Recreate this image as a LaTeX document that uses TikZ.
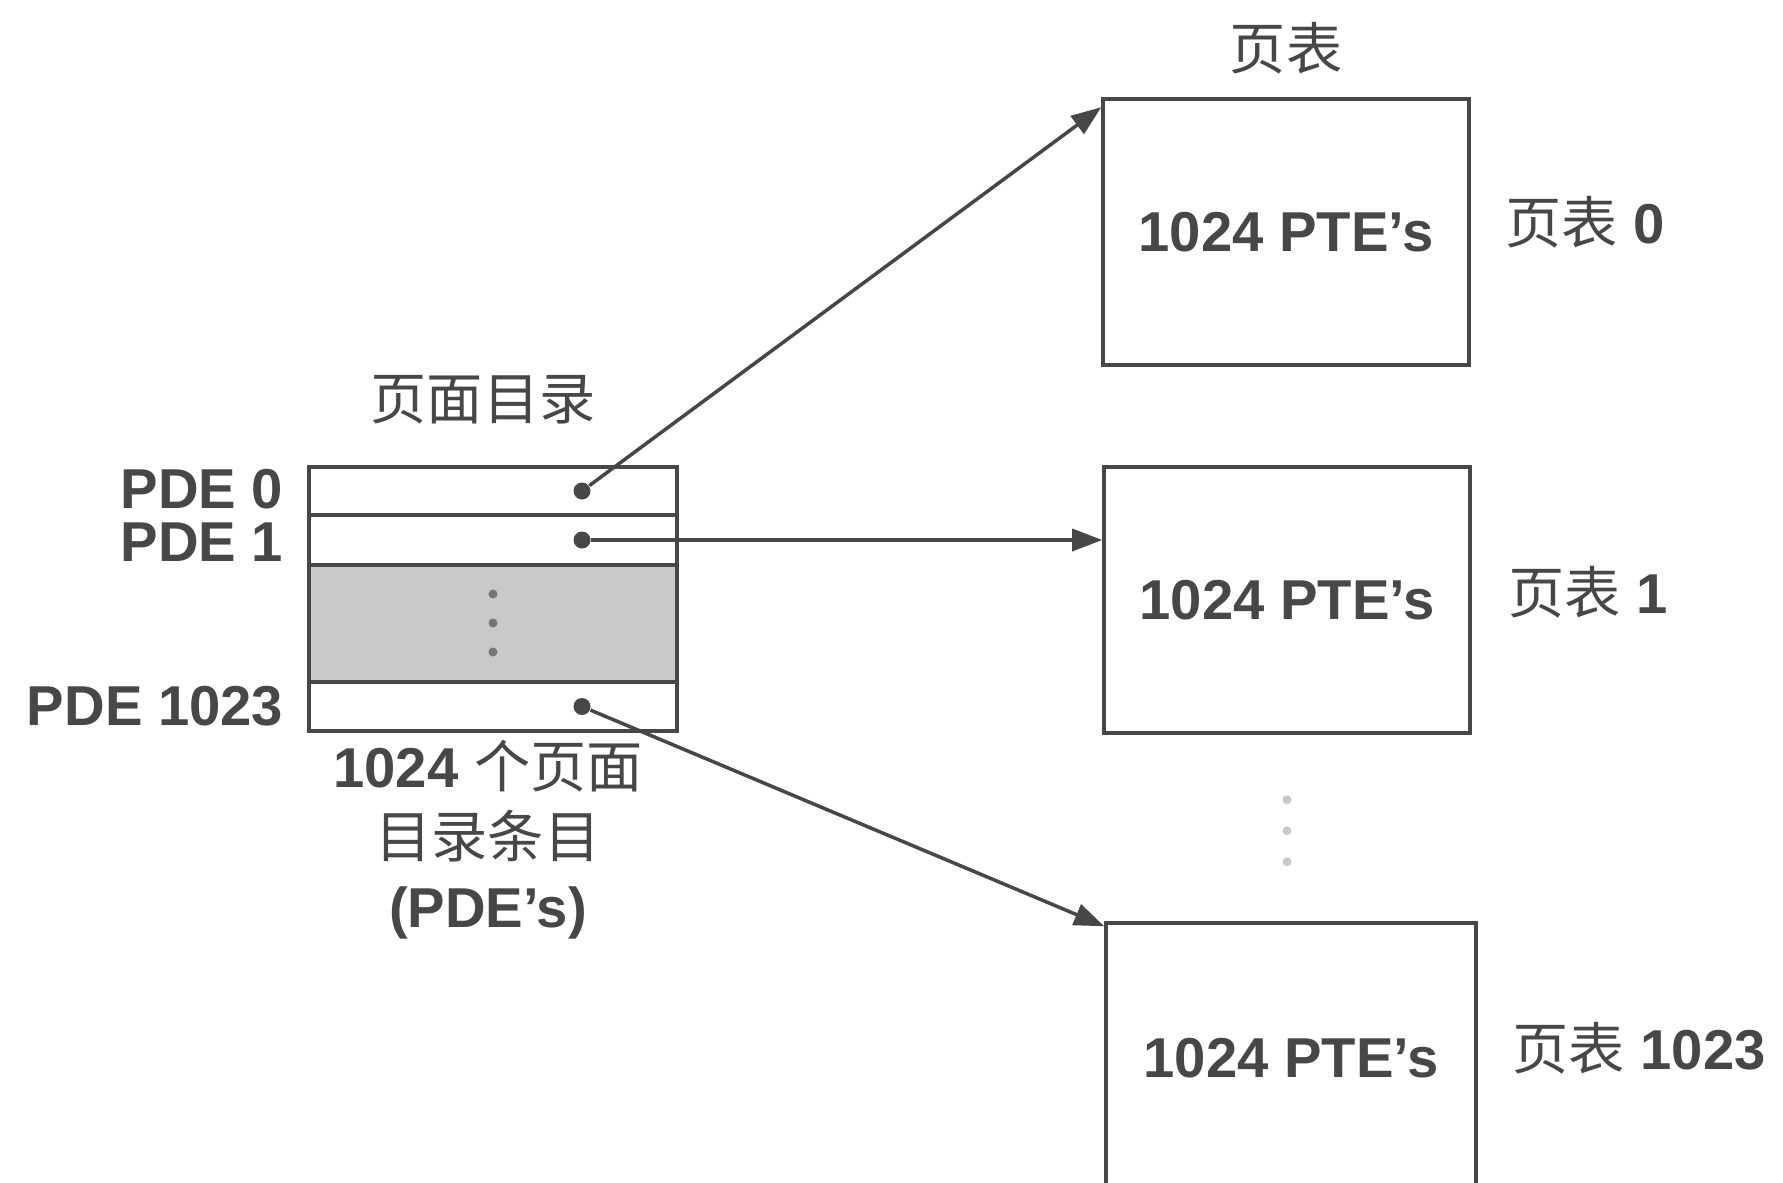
\documentclass[tikz,border=0pt]{standalone}
\usepackage{fontspec}
\setmainfont{Liberation Sans}
\newfontfamily\cjk{Noto Sans CJK SC}
\newcommand{\zh}[1]{{\cjk\mdseries #1}}
\usetikzlibrary{arrows.meta, positioning, calc}
\definecolor{inkgray}{HTML}{474747}
\definecolor{shadegray}{HTML}{C9C9C9}

\begin{document}
\begin{tikzpicture}[
    font=\fontsize{16}{20}\selectfont\bfseries,
    text=inkgray,
    pagebox/.style={
        draw=inkgray,
        rectangle,
        minimum width=3.66cm,
        minimum height=2.66cm,
        align=center,
        inner sep=0pt,
        line width=1pt
    },
    slot/.style={
        draw=inkgray,
        rectangle,
        minimum width=3.68cm,
        inner sep=0pt,
        outer sep=0pt,
        line width=1pt
    },
    ptrdot/.style={
        circle,
        fill=inkgray,
        minimum size=0.17cm,
        inner sep=0pt
    },
    gapdot/.style={
        circle,
        fill=#1,
        minimum size=0.09cm,
        inner sep=0pt
    },
    arrow/.style={
        -{Triangle[length=3mm, width=2.2mm]},
        line width=1pt,
        draw=inkgray
    },
    tag/.style={
        inner sep=0pt,
        align=center
    }
]

\useasboundingbox (0,0) rectangle (17.83,-11.83);

\node[pagebox] (pt0) at (12.86,-2.32) {1024 PTE's};
\node[pagebox] (pt1) at (12.87,-6.00) {1024 PTE's};
\node[pagebox, minimum width=3.70cm, minimum height=2.70cm] (pt1023) at (12.91,-10.58) {1024 PTE's};

\node[slot, minimum height=0.48cm] (pde0) at (4.93,-4.91) {};
\node[slot, minimum height=0.50cm, below=0pt of pde0] (pde1) {};
\node[slot, minimum height=1.17cm, fill=shadegray, below=0pt of pde1] (pdemid) {};
\node[slot, minimum height=0.49cm, below=0pt of pdemid] (pde1023) {};

\foreach \dy [count=\k] in {0.29,0.58,0.87}
    \node[gapdot=inkgray!75] (mid\k) at ($(pdemid.north)+(0,-\dy)$) {};
\foreach \dy [count=\k] in {0.65,0.96,1.27}
    \node[gapdot=inkgray!30] (gap\k) at ($(pt1.south)+(0,-\dy)$) {};

\node[ptrdot] (p0) at ($(pde0.east)+(-0.95,0)$) {};
\node[ptrdot] (p1) at ($(pde1.east)+(-0.95,0)$) {};
\node[ptrdot] (p1023) at ($(pde1023.east)+(-0.95,0)$) {};

\coordinate (in0) at ($(pt0.north west)+(0,-0.1)$);
\coordinate (in1023) at ($(pt1023.north west)+(0,-0.05)$);

\draw[arrow] (p0) -- (in0);
\draw[arrow] (p1) -- (p1 -| pt1.west);
\draw[arrow] (p1023) -- (in1023);

\node[tag, left=0.25cm of pde0, yshift=0.02cm] {PDE 0};
\node[tag, left=0.25cm of pde1, yshift=-0.02cm] {PDE 1};
\node[tag, left=0.25cm of pde1023] {PDE 1023};

\node[tag, above=0.42cm of pde0, xshift=-0.1cm] {\zh{页面目录}};
\node[tag, below=0.08cm of pde1023, xshift=-0.05cm] {1024 \zh{个页面}\\\zh{目录条目}\\(PDE's)};

\node[tag, above=0.22cm of pt0] {\zh{页表}};
\node[tag, right=0.34cm of pt0, yshift=0.1cm] {\zh{页表} 0};
\node[tag, right=0.36cm of pt1, yshift=0.08cm] {\zh{页表} 1};
\node[tag, right=0.34cm of pt1023, yshift=0.1cm] {\zh{页表} 1023};

\end{tikzpicture}
\end{document}
